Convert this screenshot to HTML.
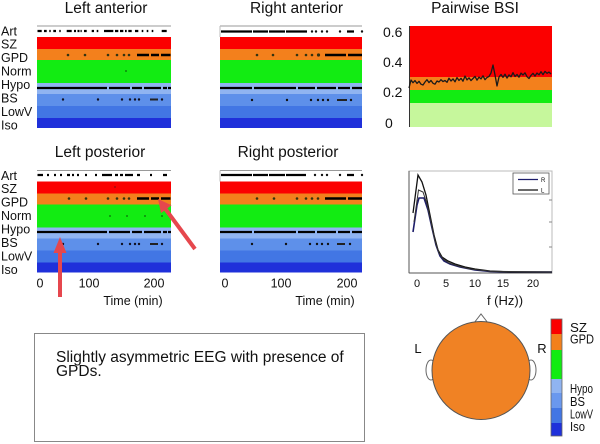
<!DOCTYPE html>
<html>
<head>
<meta charset="utf-8">
<style>
html,body{margin:0;padding:0;background:#fff;}
svg{display:block;}
text{font-family:"Liberation Sans",Arial,sans-serif;fill:#111;}
</style>
</head>
<body>
<svg width="600" height="444" viewBox="0 0 600 444" xmlns="http://www.w3.org/2000/svg">
<rect width="600" height="444" fill="#fff"/>

<!-- Titles -->
<g font-size="15.5" text-anchor="middle">
<text x="106" y="13">Left anterior</text>
<text x="296.5" y="13">Right anterior</text>
<text x="475" y="13">Pairwise BSI</text>
<text x="100" y="157">Left posterior</text>
<text x="288" y="157">Right posterior</text>
</g>

<!-- Row labels -->
<g font-size="12.5">
<text x="1" y="35.5">Art</text>
<text x="1" y="48.5">SZ</text>
<text x="1" y="62">GPD</text>
<text x="1" y="75.5">Norm</text>
<text x="1" y="89">Hypo</text>
<text x="1" y="102.5">BS</text>
<text x="1" y="116">LowV</text>
<text x="1" y="129.5">Iso</text>
</g>
<g font-size="12.5" transform="translate(0,144.5)">
<text x="1" y="35.5">Art</text>
<text x="1" y="48.5">SZ</text>
<text x="1" y="62">GPD</text>
<text x="1" y="75.5">Norm</text>
<text x="1" y="89">Hypo</text>
<text x="1" y="102.5">BS</text>
<text x="1" y="116">LowV</text>
<text x="1" y="129.5">Iso</text>
</g>

<defs>
<g id="bandsL">
<line x1="37" y1="26" x2="171" y2="26" stroke="#999" stroke-width="1"/>
<rect x="37" y="37" width="134" height="12" fill="#fb0000"/>
<rect x="37" y="49" width="134" height="11" fill="#f3801c"/>
<rect x="37" y="60" width="134" height="23" fill="#12ec12"/>
<rect x="37" y="83" width="134" height="11" fill="#90b4f1"/>
<rect x="37" y="94" width="134" height="12" fill="#5e90ea"/>
<rect x="37" y="106" width="134" height="12" fill="#4276e4"/>
<rect x="37" y="118" width="134" height="10" fill="#1f30da"/>
</g>
<g id="bandsR">
<line x1="220" y1="26" x2="362" y2="26" stroke="#999" stroke-width="1"/>
<line x1="220" y1="26" x2="220" y2="37" stroke="#bbb" stroke-width="1"/>
<rect x="220" y="37" width="142" height="12" fill="#fb0000"/>
<rect x="220" y="49" width="142" height="11" fill="#f3801c"/>
<rect x="220" y="60" width="142" height="23" fill="#12ec12"/>
<rect x="220" y="83" width="142" height="11" fill="#90b4f1"/>
<rect x="220" y="94" width="142" height="12" fill="#5e90ea"/>
<rect x="220" y="106" width="142" height="12" fill="#4276e4"/>
<rect x="220" y="118" width="142" height="10" fill="#1f30da"/>
</g>
</defs>

<!-- Left anterior -->
<use href="#bandsL"/>
<g stroke="#000" stroke-width="2.2" fill="none">
<path d="M37.5 31H41.7M44 31H46.7M49.3 31H50.7M53.3 31H56M59.3 31H60.7M66.7 31H71.7M74 31H76M77.5 31H79.5M80.5 31H81.7M84 31H86.7M91.7 31H94M96.7 31H98.3M104 31H113.3M115 31H118.3M120 31H123.3M125 31H126.7M128.3 31H131.7M135 31H138.3M141.7 31H143.3M146.7 31H148.3M151.7 31H153.3M161.7 31H166.7"/>
<path d="M137 55H149M151 55H159M161 55H170.5" stroke-width="2.4"/>
<path d="M37 88H107M109 88H130M132 88H142M144 88H161M163 88H167M168 88H171" stroke-width="2.2"/>
<path d="M150 99.5H158" stroke-width="2" stroke="#222"/>
</g>
<g fill="#331">
<circle cx="68" cy="55" r="1.3"/><circle cx="85" cy="55" r="1.3"/><circle cx="108" cy="55" r="1.3"/>
<circle cx="117" cy="55" r="1.3"/><circle cx="124" cy="55" r="1.3"/><circle cx="129" cy="55" r="1.3"/>
<circle cx="126" cy="71" r="0.9" fill="#0a6a0a"/>
<circle cx="63" cy="99.5" r="1.2" fill="#112"/><circle cx="98" cy="99.5" r="1.2" fill="#112"/>
<circle cx="122" cy="99.5" r="1.2" fill="#112"/><circle cx="130" cy="99.5" r="1.2" fill="#112"/>
<circle cx="135" cy="99.5" r="1.2" fill="#112"/><circle cx="139" cy="99.5" r="1.2" fill="#112"/>
<circle cx="162" cy="99.5" r="1.2" fill="#112"/>
</g>

<!-- Right anterior -->
<use href="#bandsR"/>
<g stroke="#000" stroke-width="2.2" fill="none">
<path d="M221 31.5H252M253 31.5H268M269 31.5H285M286 31.5H307M347 31.5H354"/>
<path d="M325 55H346M348 55H362" stroke-width="2.4"/>
<path d="M220 88H252M254 88H296M298 88H315M317 88H336M338 88H350M352 88H362" stroke-width="2.2"/>
<path d="M337 100H347" stroke-width="2" stroke="#222"/>
</g>
<g fill="#111">
<circle cx="312" cy="31.5" r="1.2"/><circle cx="316" cy="31.5" r="1.2"/><circle cx="322" cy="31.5" r="1.2"/><circle cx="327" cy="31.5" r="1.2"/><circle cx="340" cy="31.5" r="1.2"/><circle cx="362" cy="31.5" r="1.2"/>
<circle cx="257" cy="55" r="1.3" fill="#331"/><circle cx="273" cy="55" r="1.3" fill="#331"/><circle cx="297" cy="55" r="1.3" fill="#331"/>
<circle cx="306" cy="55" r="1.3" fill="#331"/><circle cx="312" cy="55" r="1.3" fill="#331"/><circle cx="318.5" cy="55" r="1.6" fill="#331"/>
<circle cx="252" cy="100" r="1.2"/><circle cx="287" cy="100" r="1.2"/><circle cx="311" cy="100" r="1.2"/>
<circle cx="318" cy="100" r="1.2"/><circle cx="323" cy="100" r="1.2"/><circle cx="328" cy="100" r="1.2"/>
<circle cx="351" cy="100" r="1.2"/>
</g>

<!-- Left posterior -->
<g transform="translate(0,144.5)">
<use href="#bandsL"/>
<g stroke="#000" stroke-width="2.2" fill="none">
<path d="M37.5 30.5H43M47 30.5H49M54 30.5H56M60 30.5H62M67 30.5H70M72 30.5H74M77 30.5H79M85 30.5H87M95 30.5H97M102 30.5H112M115 30.5H118M120 30.5H123M125 30.5H133M137 30.5H140M150 30.5H152M163 30.5H167"/>
<path d="M137 54H149M151 54H159M161 54H170.5" stroke-width="2.4"/>
<path d="M37 87.5H107M109 87.5H130M132 87.5H142M144 87.5H161M163 87.5H167M168 87.5H171" stroke-width="2.2"/>
<path d="M150 99.5H158" stroke-width="2" stroke="#222"/>
</g>
<g fill="#331">
<circle cx="115" cy="42.5" r="0.9" fill="#8a1010"/>
<circle cx="69" cy="54" r="1.3"/><circle cx="86" cy="54" r="1.3"/><circle cx="108" cy="54" r="1.3"/>
<circle cx="117" cy="54" r="1.3"/><circle cx="124" cy="54" r="1.3"/><circle cx="129" cy="54" r="1.3"/>
<circle cx="110" cy="71.5" r="0.9" fill="#0a6a0a"/><circle cx="127" cy="71.5" r="0.9" fill="#0a6a0a"/>
<circle cx="145" cy="71.5" r="0.9" fill="#0a6a0a"/><circle cx="162" cy="71.5" r="0.9" fill="#0a6a0a"/>
<circle cx="63" cy="99.5" r="1.2" fill="#112"/><circle cx="98" cy="99.5" r="1.2" fill="#112"/>
<circle cx="122" cy="99.5" r="1.2" fill="#112"/><circle cx="130" cy="99.5" r="1.2" fill="#112"/>
<circle cx="135" cy="99.5" r="1.2" fill="#112"/><circle cx="139" cy="99.5" r="1.2" fill="#112"/>
<circle cx="162" cy="99.5" r="1.2" fill="#112"/>
</g>
</g>

<!-- Right posterior -->
<g transform="translate(0,144.5)">
<use href="#bandsR"/>
<g stroke="#000" stroke-width="2.2" fill="none">
<path d="M221 30.5H252M253 30.5H268M269 30.5H285M286 30.5H306M347 30.5H354"/>
<path d="M325 54H346M348 54H362" stroke-width="2.4"/>
<path d="M220 87.5H252M254 87.5H296M298 87.5H315M317 87.5H336M338 87.5H350M352 87.5H362" stroke-width="2.2"/>
<path d="M337 99.5H345" stroke-width="2" stroke="#222"/>
</g>
<g fill="#111">
<circle cx="315" cy="30.5" r="1.2"/><circle cx="322" cy="30.5" r="1.2"/><circle cx="327" cy="30.5" r="1.2"/><circle cx="340" cy="30.5" r="1.2"/><circle cx="362" cy="30.5" r="1.2"/>
<circle cx="257" cy="54" r="1.3" fill="#331"/><circle cx="274" cy="54" r="1.3" fill="#331"/><circle cx="297" cy="54" r="1.3" fill="#331"/>
<circle cx="306" cy="54" r="1.3" fill="#331"/><circle cx="312" cy="54" r="1.3" fill="#331"/><circle cx="318" cy="54" r="1.3" fill="#331"/>
<circle cx="252" cy="99.5" r="1.2"/><circle cx="286" cy="99.5" r="1.2"/><circle cx="310" cy="99.5" r="1.2"/>
<circle cx="317" cy="99.5" r="1.2"/><circle cx="322" cy="99.5" r="1.2"/><circle cx="328" cy="99.5" r="1.2"/>
<circle cx="350" cy="99.5" r="1.2"/>
</g>
</g>

<!-- Time axes labels -->
<g font-size="12.5" text-anchor="middle">
<text x="40" y="287.5">0</text>
<text x="89" y="287.5">100</text>
<text x="154" y="287.5">200</text>
<text x="133" y="305">Time (min)</text>
<text x="225" y="287.5">0</text>
<text x="281" y="287.5">100</text>
<text x="347" y="287.5">200</text>
<text x="325" y="305">Time (min)</text>
</g>

<!-- Pairwise BSI -->
<rect x="409" y="26" width="143" height="51" fill="#fb0000"/>
<rect x="409" y="77" width="143" height="13" fill="#f3801c"/>
<rect x="409" y="90" width="143" height="13" fill="#12ec12"/>
<rect x="409" y="103" width="143" height="24" fill="#c6f79c"/>
<line x1="409.5" y1="26" x2="409.5" y2="127" stroke="#333" stroke-width="1"/>
<polyline fill="none" stroke="#1a1a1a" stroke-width="1.3" stroke-linejoin="round"
points="409,88 411,80 413,82.7 415,80.6 417,83.4 419,81.3 421,84.2 423,85 425,82 427,79.7 429,82.6 431,80.5 433,83.3 435,84.2 437,81 439,82 441,79.7 443,81.6 445,80.5 447,82.3 449,78.2 451,81 453,78.9 455,81.8 457,77.6 459,80.5 461,78.3 463,81.2 465,76.1 467,79.9 469,77.8 471,80.6 473,78.5 475,76.4 477,80.2 479,77.1 481,78.9 483,75.8 485,79.7 487,77.5 489,76.4 491,73 493,65 495,75 497,86 499,77 501,74.5 503,77.4 505,74.2 507,78.1 509,74.9 511,76.8 513,72.7 515,76.5 517,74.4 519,77.2 521,73.1 523,75 525,72.8 527,76.7 529,78.5 531,75.4 533,73.3 535,76.1 537,73 539,74.8 541,71.7 543,74.6 545,71.4 547,73.3 549,72.1 551,74"/>
<g font-size="14">
<text x="383" y="37">0.6</text>
<text x="383" y="67">0.4</text>
<text x="383" y="97">0.2</text>
<text x="385" y="128">0</text>
</g>

<!-- Spectrum -->
<rect x="409" y="171" width="143" height="102" fill="#fff" stroke="#bbb" stroke-width="1"/>
<line x1="409" y1="171" x2="409" y2="273" stroke="#555" stroke-width="1"/>
<line x1="409" y1="273" x2="552" y2="273" stroke="#555" stroke-width="1"/>
<g stroke="#888" stroke-width="1">
<line x1="549" y1="200" x2="552" y2="200"/>
<line x1="549" y1="222" x2="552" y2="222"/>
<line x1="549" y1="247" x2="552" y2="247"/>
</g>
<path d="M413 232 L417 205 L419 198 L424 198 L428 210 L432 228 L436 245 L440 256 L444 261 L450 264 L460 267 L475 270 L490 271.5 L510 272 L552 272" fill="none" stroke="#1c1c6a" stroke-width="1.6"/>
<path d="M413 213 L418 175 L422 182 L426 195 L430 215 L434 235 L438 250 L442 257 L448 261 L455 264 L465 267 L475 269 L490 271 L510 272 L552 272" fill="none" stroke="#111" stroke-width="1.3"/>
<path d="M414 222 L418.5 190 L423 192 L427 204 L431 222 L435 241 L439 253 L443 259 L449 263 L458 266 L470 269 L490 271.3 L552 272" fill="none" stroke="#333" stroke-width="1"/>
<rect x="513" y="173" width="36" height="21" fill="#fff" stroke="#555" stroke-width="0.8"/>
<line x1="518" y1="179.5" x2="538" y2="179.5" stroke="#1c1c6a" stroke-width="1.3"/>
<line x1="518" y1="190" x2="538" y2="190" stroke="#111" stroke-width="1.3"/>
<text x="541" y="182" font-size="6">R</text>
<text x="541" y="192.5" font-size="6">L</text>
<g font-size="11" text-anchor="middle">
<text x="417" y="287">0</text>
<text x="446" y="287">5</text>
<text x="475" y="287">10</text>
<text x="503" y="287">15</text>
<text x="533" y="287">20</text>
</g>
<text x="505" y="305" font-size="13" text-anchor="middle">f (Hz))</text>

<!-- Text box -->
<rect x="34.5" y="333.5" width="330" height="108" fill="#fff" stroke="#888" stroke-width="1"/>
<text x="56" y="362" font-size="15.5">Slightly asymmetric EEG with presence of</text>
<text x="56" y="376" font-size="15.5">GPDs.</text>

<!-- Head map -->
<ellipse cx="431" cy="370" rx="5" ry="10" fill="#fff" stroke="#666" stroke-width="1"/>
<ellipse cx="531" cy="370" rx="5" ry="10" fill="#fff" stroke="#666" stroke-width="1"/>
<path d="M474 323 L481 314 L488 323" fill="#fff" stroke="#666" stroke-width="1"/>
<circle cx="481" cy="370.5" r="49" fill="#f08224" stroke="#555" stroke-width="1"/>
<text x="418" y="353" font-size="13" text-anchor="middle">L</text>
<text x="542" y="353" font-size="13" text-anchor="middle">R</text>

<!-- Colorbar -->
<rect x="551" y="319" width="11" height="15" fill="#fb0000"/>
<rect x="551" y="334" width="11" height="16" fill="#f3801c"/>
<rect x="551" y="350" width="11" height="29" fill="#12ec12"/>
<rect x="551" y="379" width="11" height="14" fill="#90b4f1"/>
<rect x="551" y="393" width="11" height="15" fill="#6a98ee"/>
<rect x="551" y="408" width="11" height="15" fill="#4276e4"/>
<rect x="551" y="423" width="11" height="13" fill="#1f30da"/>
<rect x="551" y="319" width="11" height="117" fill="none" stroke="#666" stroke-width="0.8"/>
<g font-size="12.5">
<text x="570" y="332" textLength="17" lengthAdjust="spacingAndGlyphs">SZ</text>
<text x="570" y="343.5" textLength="24" lengthAdjust="spacingAndGlyphs">GPD</text>
<text x="570" y="393" textLength="23" lengthAdjust="spacingAndGlyphs">Hypo</text>
<text x="570" y="406" textLength="15" lengthAdjust="spacingAndGlyphs">BS</text>
<text x="570" y="418.5" textLength="23" lengthAdjust="spacingAndGlyphs">LowV</text>
<text x="570" y="431" textLength="15" lengthAdjust="spacingAndGlyphs">Iso</text>
</g>

<!-- Red arrows -->
<g fill="#e6474d" stroke="none">
<rect x="58" y="250" width="4" height="47"/>
<polygon points="60,237 53.5,253 66.5,253"/>
<polygon points="193.4,250.2 196.6,247.8 167.4,208.3 164.2,210.7"/>
<polygon points="158,199 171.5,205.3 161,213.1"/>
</g>
</svg>
</body>
</html>
